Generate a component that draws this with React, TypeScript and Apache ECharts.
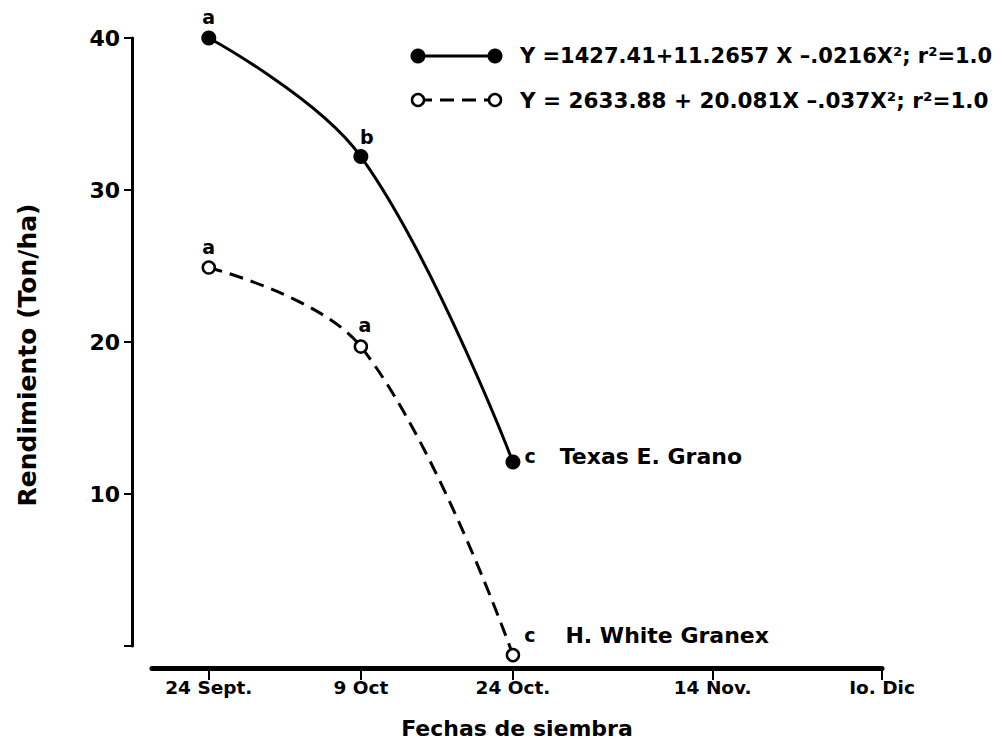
import React, { useEffect, useRef } from "react";
import * as echarts from "echarts";

// ---- data ----
const tickDays = [0, 15, 30, 49.7, 66.4];
const tickLabels = ["24 Sept.", "9 Oct", "24 Oct.", "14 Nov.", "Io. Dic"];
const sowingDays = [0, 15, 30];
const texasYield = [40, 32.2, 12.1];
const granexYield = [24.9, 19.7, -0.6];
const texasLetters = ["a", "b", "c"];
const granexLetters = ["a", "a", "c"];
const seriesNames = ["Texas E. Grano", "H. White Granex"];
const equations = [
  "Y =1427.41+11.2657 X –.0216X²; r²=1.0",
  "Y = 2633.88 + 20.081X –.037X²; r²=1.0",
];

const FONT = '"DejaVu Sans", sans-serif';
const INK = "#000";

const letterStyle = {
  fontFamily: FONT,
  fontSize: 19,
  fontWeight: "bold" as const,
  color: INK,
};

export default function App() {
  const ref = useRef<HTMLDivElement>(null);

  useEffect(() => {
    if (!ref.current) return;
    const chart = echarts.init(ref.current, undefined, { renderer: "svg" });

    const texasLabelCfg = [
      { position: "top", distance: 4 },
      { position: "top", distance: 3, offset: [6, 0] },
      { position: "right", distance: 4, offset: [0, -6] },
    ];
    const granexLabelCfg = [
      { position: "top", distance: 4 },
      { position: "top", distance: 5, offset: [4, 0] },
      { position: "right", distance: 4, offset: [0, -20] },
    ];

    const makeData = (ys: number[], letters: string[], cfg: any[], name: string, gap: number) =>
      sowingDays.map((d, i) => ({
        value: [d, ys[i]],
        label: {
          show: true,
          ...cfg[i],
          ...letterStyle,
          formatter:
            i === sowingDays.length - 1
              ? `{c|${letters[i]}}{n|${name}}`
              : letters[i],
          rich: {
            c: { ...letterStyle },
            n: {
              fontFamily: FONT,
              fontSize: 22,
              fontWeight: "bold",
              color: INK,
              padding: [0, 0, 0, gap],
            },
          },
        },
      }));

    const legendY = [56, 100];
    const lx1 = 418;
    const lx2 = 495;

    chart.setOption({
      animation: false,
      backgroundColor: "#fff",
      grid: {
        left: 152,
        right: 121,
        top: 38,
        bottom: 100,
        containLabel: false,
        outerBoundsMode: "none",
      },
      xAxis: {
        type: "value",
        min: -5.6,
        max: 66.4,
        offset: 22,
        axisLine: { show: true, onZero: false, lineStyle: { color: INK, width: 5 } },
        axisTick: {
          show: true,
          customValues: tickDays,
          length: 12,
          lineStyle: { color: INK, width: 2 },
        },
        axisLabel: {
          customValues: tickDays,
          formatter: (v: number) => {
            const i = tickDays.findIndex((t) => Math.abs(t - v) < 1e-6);
            return i >= 0 ? tickLabels[i] : "";
          },
          margin: 10,
          fontFamily: FONT,
          fontSize: 18.5,
          fontWeight: "bold",
          color: INK,
        },
        splitLine: { show: false },
        name: "Fechas de siembra",
        nameLocation: "middle",
        nameGap: 49,
        nameTextStyle: { fontFamily: FONT, fontSize: 22, fontWeight: "bold", color: INK },
      },
      yAxis: {
        type: "value",
        min: 0,
        max: 40,
        interval: 10,
        offset: 20,
        axisLine: { show: true, onZero: false, lineStyle: { color: INK, width: 3 } },
        axisTick: { show: true, length: 8, lineStyle: { color: INK, width: 2 } },
        axisLabel: {
          formatter: (v: number) => (v === 0 ? "" : String(v)),
          margin: 12,
          fontFamily: FONT,
          fontSize: 22,
          fontWeight: "bold",
          color: INK,
        },
        splitLine: { show: false },
        name: "Rendimiento (Ton/ha)",
        nameLocation: "middle",
        nameGap: 92,
        nameRotate: 90,
        nameTextStyle: {
          fontFamily: FONT,
          fontSize: 25,
          fontWeight: "bold",
          color: INK,
          padding: [0, 26, 0, 0],
        },
      },
      graphic: [
        {
          type: "line",
          shape: { x1: lx1, y1: legendY[0], x2: lx2, y2: legendY[0] },
          style: { stroke: INK, lineWidth: 3 },
        },
        { type: "circle", shape: { cx: lx1, cy: legendY[0], r: 7.5 }, style: { fill: INK } },
        { type: "circle", shape: { cx: lx2, cy: legendY[0], r: 7.5 }, style: { fill: INK } },
        {
          type: "line",
          shape: { x1: lx1, y1: legendY[1], x2: lx2, y2: legendY[1] },
          style: { stroke: INK, lineWidth: 3, lineDash: [14, 8] },
        },
        {
          type: "circle",
          shape: { cx: lx1, cy: legendY[1], r: 6 },
          style: { fill: "#fff", stroke: INK, lineWidth: 2.5 },
        },
        {
          type: "circle",
          shape: { cx: lx2, cy: legendY[1], r: 6 },
          style: { fill: "#fff", stroke: INK, lineWidth: 2.5 },
        },
        {
          type: "text",
          x: 520,
          y: legendY[0],
          style: {
            text: equations[0],
            fontFamily: FONT,
            fontSize: 21,
            fontWeight: "bold",
            fill: INK,
            verticalAlign: "middle",
            align: "left",
          },
        },
        {
          type: "text",
          x: 520,
          y: legendY[1],
          style: {
            text: equations[1],
            fontFamily: FONT,
            fontSize: 21.5,
            fontWeight: "bold",
            fill: INK,
            verticalAlign: "middle",
            align: "left",
          },
        },
      ],
      series: [
        {
          name: seriesNames[0],
          type: "line",
          smooth: 0.38,
          clip: false,
          symbol: "circle",
          symbolSize: 15,
          itemStyle: { color: INK },
          lineStyle: { color: INK, width: 3 },
          data: makeData(texasYield, texasLetters, texasLabelCfg, seriesNames[0], 24),
          z: 3,
        },
        {
          name: seriesNames[1],
          type: "line",
          smooth: 0.38,
          clip: false,
          symbol: "circle",
          symbolSize: 12,
          itemStyle: { color: "#fff", borderColor: INK, borderWidth: 2.5 },
          lineStyle: { color: INK, width: 3, type: [14, 8] },
          data: makeData(granexYield, granexLetters, granexLabelCfg, seriesNames[1], 30),
          z: 2,
        },
      ],
    });

    return () => chart.dispose();
  }, []);

  return (
    <div
      ref={ref}
      style={{ position: "fixed", left: 0, top: 0, width: 1003, height: 746, background: "#fff" }}
    />
  );
}
